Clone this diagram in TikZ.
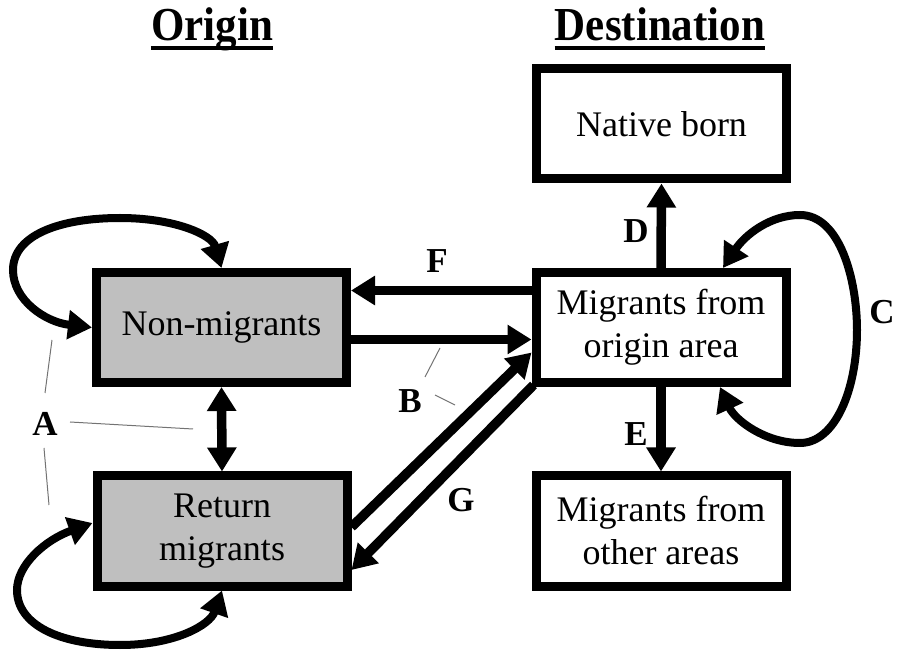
\documentclass[tikz,border=0pt]{standalone}
\usepackage{fontspec}
\setmainfont{Liberation Serif}
\usetikzlibrary{arrows.meta}
\begin{document}
\begin{tikzpicture}[x=1pt,y=-1pt,
  box/.style={draw, line width=9pt, minimum width=250pt, minimum height=110pt, inner sep=0pt, align=center, font=\fontsize{36}{43}\selectfont},
  gbox/.style={box, fill=black!25},
  tipx/.tip={Triangle[length=24pt,width=28pt]},
  arr/.style={line width=9.5pt, -tipx},
  darr/.style={line width=9.5pt, tipx-tipx},
  lp/.style={line width=8pt, tipx-tipx},
  lbl/.style={font=\bfseries\fontsize{35}{35}\selectfont, inner sep=0pt},
  thinl/.style={line width=1pt, draw=black!55},
  ttl/.style={font=\bfseries\fontsize{43}{43}\selectfont, inner sep=0pt, anchor=base}]
\useasboundingbox (0,0) rectangle (898,652);
% boxes
\node[gbox] (nm) at (221.5,327.5) {Non-migrants};
\node[gbox] (ret) at (222,531) {\raisebox{-3pt}{Return}\\\raisebox{-3pt}{migrants}};
\node[box] (nb) at (661.5,124) {Native born};
\node[box] (mo) at (661,327.5) {\raisebox{-3pt}{Migrants from}\\\raisebox{-3pt}{origin area}};
\node[box] (oth) at (661,531) {\raisebox{-3pt}{Migrants from}\\\raisebox{-3pt}{other areas}};
% titles
\node[ttl] (ot) at (212,41) {\scalebox{1}[1.1]{Origin}};
\node[ttl] (dt) at (660,41) {\scalebox{1}[1.1]{Destination}};
\draw[line width=3.5pt] ([yshift=-7pt]ot.base west) -- ([yshift=-7pt]ot.base east);
\draw[line width=3.5pt] ([yshift=-7pt]dt.base west) -- ([yshift=-7pt]dt.base east);
% straight arrows
\draw[arr] ([yshift=37pt]mo.west) -- ([yshift=37pt]nm.east);
\draw[arr] ([yshift=-12pt]nm.east) -- ([yshift=-12pt]mo.west);
\draw[arr] ([yshift=4pt]ret.east) -- ([yshift=-25pt]mo.west);
\draw[arr] ([xshift=2pt,yshift=2pt]mo.south west) -- ([yshift=-39pt]ret.east);
\draw[darr] (nm.south) -- (ret.north);
\draw[arr] (mo.north) -- (nb.south);
\draw[arr] (mo.south) -- (oth.north);
% loops
\draw[lp] (nm.west) .. controls (45,322) and (13,300) .. (13,270)
  .. controls (13,235) and (60,218) .. (120,218)
  .. controls (175,218) and (212,235) .. (nm.north);
\draw[lp] ([yshift=8pt]ret.west) .. controls (45,540) and (17,565) .. (17,590)
  .. controls (17,625) and (60,645) .. (120,645)
  .. controls (175,645) and (210,625) .. (ret.south);
\draw[lp] ([xshift=62pt]mo.north) .. controls (745,235) and (770,215) .. (800,215)
  .. controls (840,215) and (857,280) .. (857,330)
  .. controls (857,390) and (835,443) .. (800,443)
  .. controls (765,443) and (735,420) .. ([xshift=59pt]mo.south);
% labels
\node[lbl] (la) at (45,424) {A};
\node[lbl] (lb) at (410,401) {B};
\node[lbl] (lc) at (882,312) {C};
\node[lbl] (ld) at (636,231) {D};
\node[lbl] (le) at (636,434) {E};
\node[lbl] (lf) at (437,261) {F};
\node[lbl] (lg) at (461,500) {G};
% thin leader lines
\coordinate (a1s) at (52,340); \coordinate (a1e) at (45,393);
\coordinate (a2s) at (70,422); \coordinate (a2e) at (193,429);
\coordinate (a3s) at (44,448); \coordinate (a3e) at (49,505);
\coordinate (b1s) at (440,348); \coordinate (b1e) at (425,377);
\coordinate (b2s) at (435,395); \coordinate (b2e) at (455,405);
\draw[thinl] (a1s) -- (a1e);
\draw[thinl] (a2s) -- (a2e);
\draw[thinl] (a3s) -- (a3e);
\draw[thinl] (b1s) -- (b1e);
\draw[thinl] (b2s) -- (b2e);
\end{tikzpicture}
\end{document}
